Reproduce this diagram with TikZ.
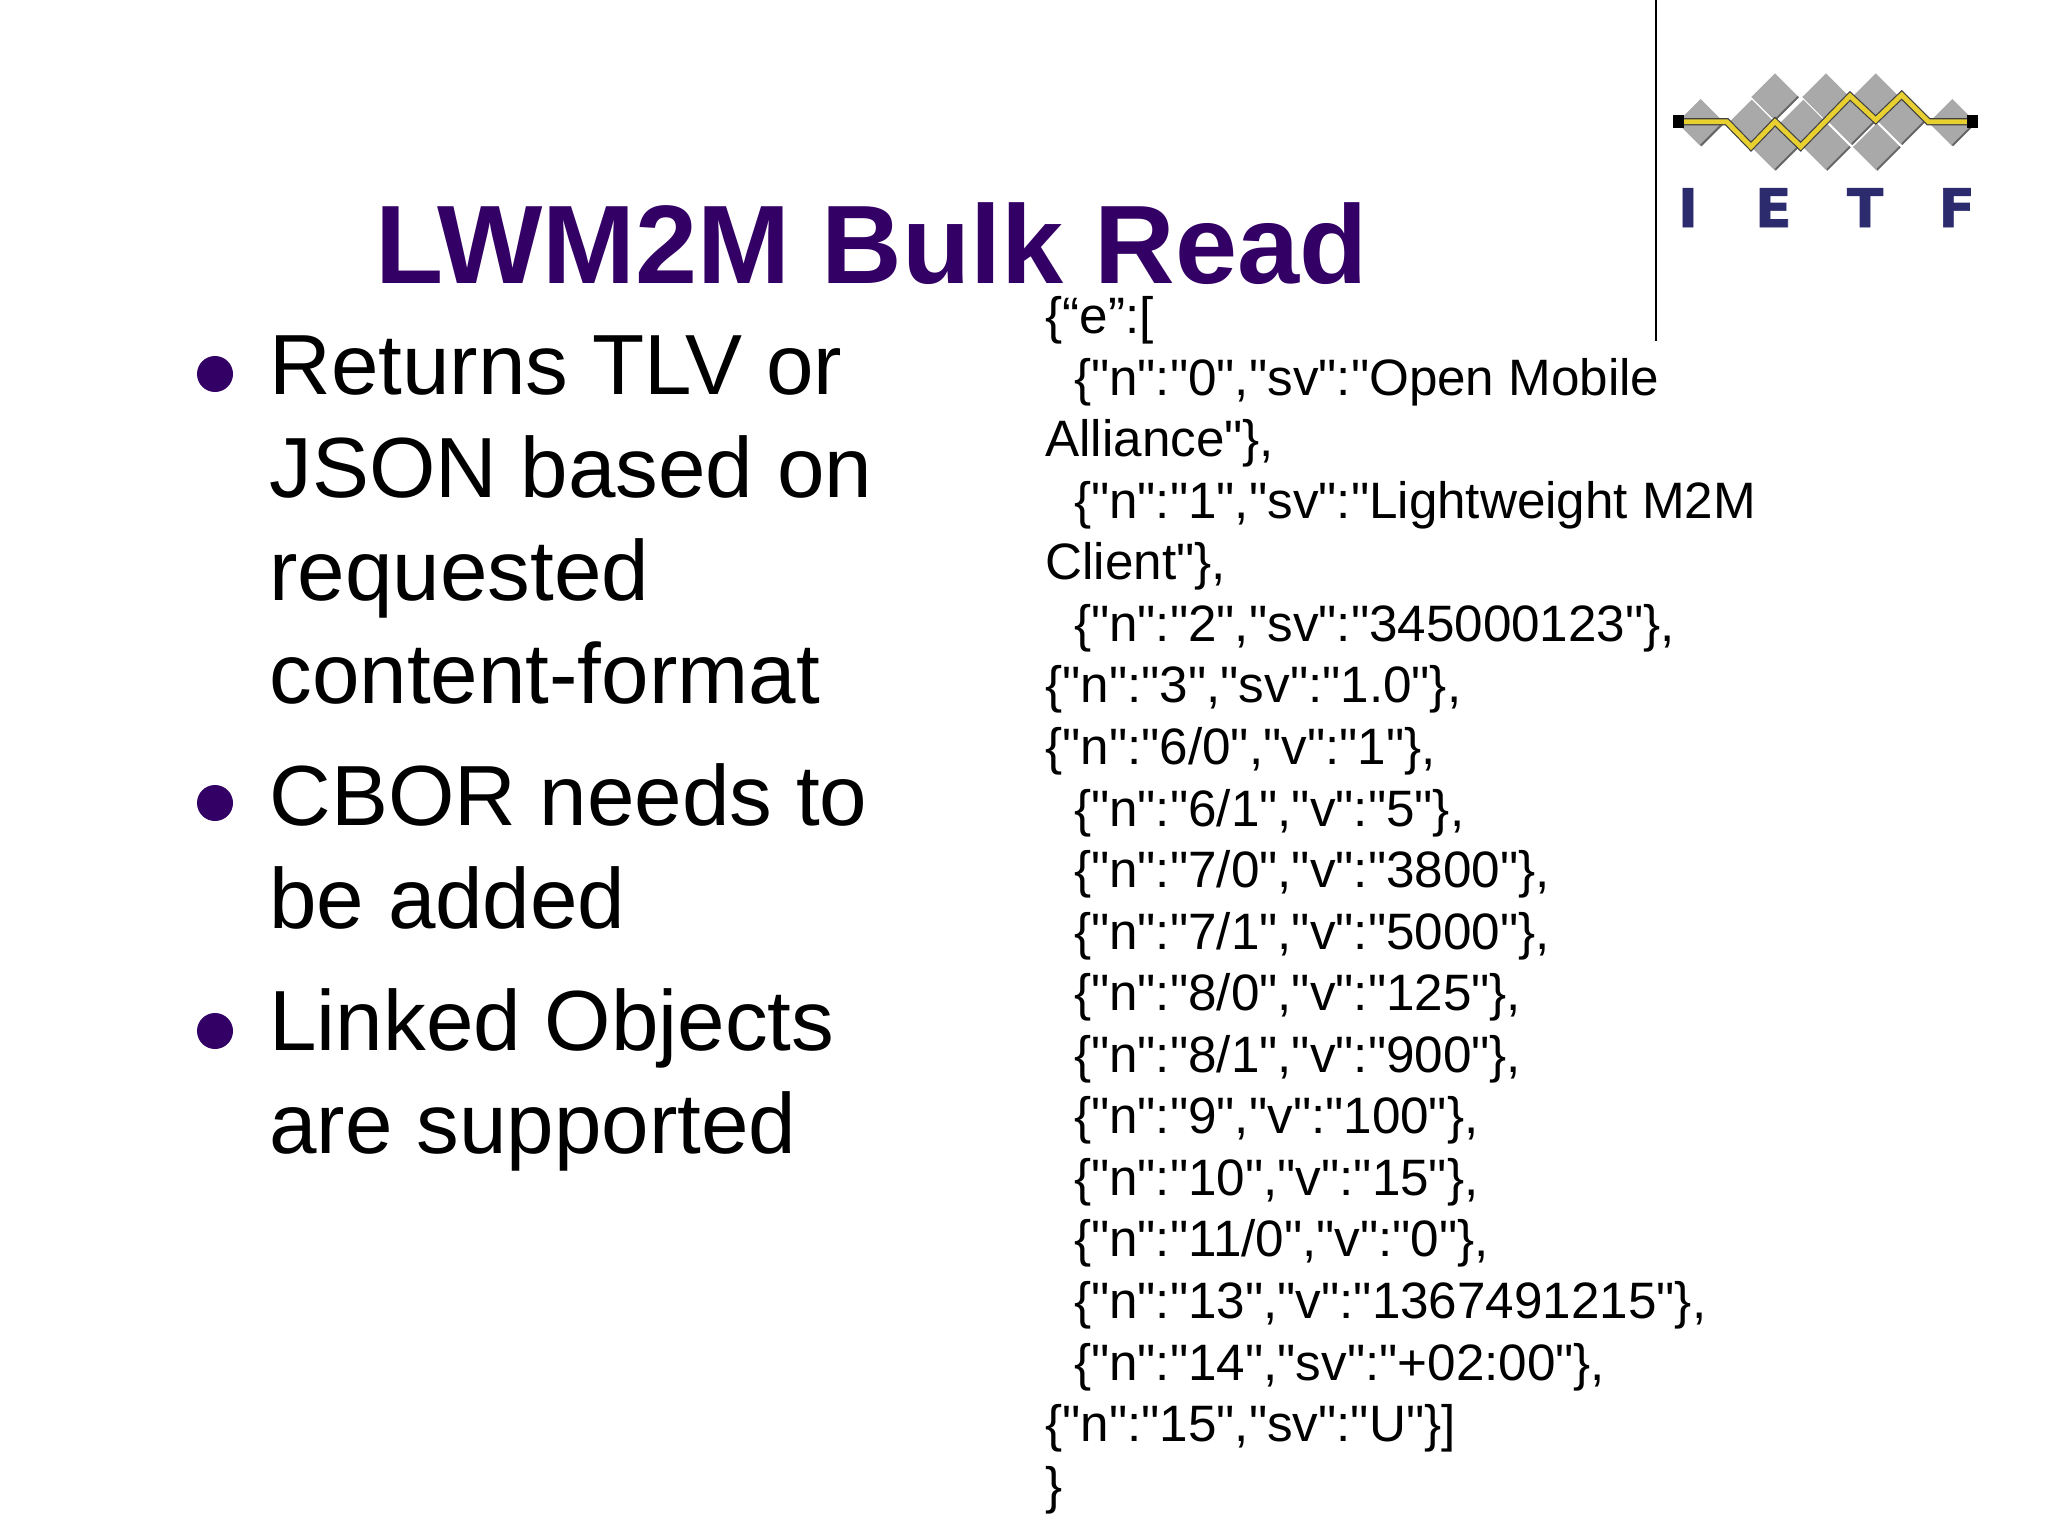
\documentclass[tikz,border=0pt]{standalone}
\usepackage{fontspec}
\newfontfamily\slidefont{Liberation Sans}
\newfontfamily\logofont{DejaVu Sans Bold}[FakeBold=1.2]
\usepackage{tikz}
\usetikzlibrary{positioning}
\definecolor{slidepurple}{HTML}{330066}
\definecolor{logoblue}{HTML}{2B2B6E}
\definecolor{logogray}{HTML}{A9A9A9}
\definecolor{logoyellow}{HTML}{E8D030}
\tikzset{
	titletext/.style={anchor=base west, inner sep=0pt, text=slidepurple, font=\fontsize{55.8}{66}\slidefont\bfseries},
	bodytext/.style={anchor=north west, inner sep=0pt, align=left, font=\fontsize{42.7}{51.5}\slidefont},
	jsontext/.style={anchor=north west, inner sep=0pt, align=left, font=\fontsize{25.6}{30.78}\slidefont},
	bulletdot/.style={circle, fill=slidepurple, inner sep=0pt, minimum size=18pt},
	logoletter/.style={inner sep=0pt, text=logoblue, font=\fontsize{26.7}{30}\logofont},
	wireend/.style={fill=black, inner sep=0pt, minimum width=5.6pt, minimum height=6.6pt},
}
\newcommand{\ind}{\hspace*{14.3pt}}

\begin{document}
\begin{tikzpicture}[x=0.5pt, y=-0.5pt]
	\useasboundingbox (0,0) rectangle (2048,1536);

	% title and bullets
	\node[titletext] (title) at (375,283) {LWM2M Bulk Read};

	\node[bulletdot] (dot1) at (215,374) {};
	\node[bulletdot] (dot2) at (215,803) {};
	\node[bulletdot] (dot3) at (215,1031) {};

	\node[bodytext] (item1) at (269,335) {Returns TLV or\\JSON based on\\requested\\content-format};
	\node[bodytext] (item2) at (269,763) {CBOR needs to\\be added};
	\node[bodytext] (item3) at (269,988) {Linked Objects\\are supported};

	% the json listing
	\node[jsontext] (listing) at (1045,296) {\{“e”:[\\
		\ind\{"n":"0","sv":"Open Mobile\\
		Alliance"\},\\
		\ind\{"n":"1","sv":"Lightweight M2M\\
		Client"\},\\
		\ind\{"n":"2","sv":"345000123"\},\\
		\{"n":"3","sv":"1.0"\},\\
		\{"n":"6/0","v":"1"\},\\
		\ind\{"n":"6/1","v":"5"\},\\
		\ind\{"n":"7/0","v":"3800"\},\\
		\ind\{"n":"7/1","v":"5000"\},\\
		\ind\{"n":"8/0","v":"125"\},\\
		\ind\{"n":"8/1","v":"900"\},\\
		\ind\{"n":"9","v":"100"\},\\
		\ind\{"n":"10","v":"15"\},\\
		\ind\{"n":"11/0","v":"0"\},\\
		\ind\{"n":"13","v":"1367491215"\},\\
		\ind\{"n":"14","sv":"+02:00"\},\\
		\{"n":"15","sv":"U"\}]\\
		\}};

	% rule beside the logo
	\coordinate (ruletop) at (1656,0);
	\coordinate (rulebottom) at (1656,341);
	\draw[line width=1pt] (ruletop) -- (rulebottom);

	% logo, in steps of a third of a pixel
	\begin{scope}[shift={(1640,0)}, x=0.16667pt, y=-0.16667pt]
		\foreach \cx/\cy/\hd in {182/367/70, 937/367/70, 335/367/68, 490/367/68, 635/365/68, 785/365/68,
			405/290/70, 558/290/70, 707/290/70, 405/440/70, 560/440/70, 710/440/70}{
			\fill[logogray] (\cx,\cy-\hd) -- (\cx+\hd,\cy) -- (\cx,\cy+\hd) -- (\cx-\hd,\cy) -- cycle;
			\draw[black!60, line width=1pt] (\cx,\cy+\hd) -- (\cx+\hd,\cy);
			\draw[black!35, line width=0.4pt] (\cx-\hd,\cy) -- (\cx,\cy+\hd);
		}
		\coordinate (wirestart) at (115,365);
		\coordinate (wirestop) at (997,365);
		\draw[black!75, line width=3.6pt] (wirestart) -- (260,365) -- (333,440) -- (405,365) -- (482,440) -- (630,288) -- (707,360) -- (785,285) -- (865,365) -- (wirestop);
		\draw[logoyellow, line width=2.4pt] (wirestart) -- (260,365) -- (333,440) -- (405,365) -- (482,440) -- (630,288) -- (707,360) -- (785,285) -- (865,365) -- (wirestop);
		\node[wireend] (wireleft) at (wirestart) {};
		\node[wireend] (wireright) at (wirestop) {};
		\node[logoletter] (letterI) at (144,623) {I};
		\node[logoletter] (letterE) at (400,623) {E};
		\node[logoletter] (letterT) at (675,623) {T};
		\node[logoletter] (letterF) at (950,623) {F};
	\end{scope}
\end{tikzpicture}
\end{document}
